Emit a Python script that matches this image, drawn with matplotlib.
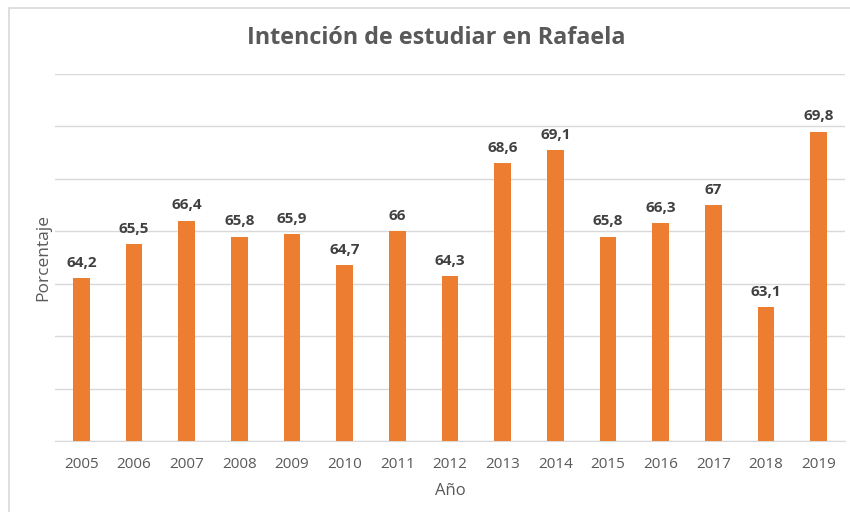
import matplotlib
matplotlib.use('Agg')
import matplotlib.pyplot as plt
from matplotlib.patches import Rectangle

years = ['2005', '2006', '2007', '2008', '2009', '2010', '2011', '2012',
         '2013', '2014', '2015', '2016', '2017', '2018', '2019']
values = [64.2, 65.5, 66.4, 65.8, 65.9, 64.7, 66, 64.3,
          68.6, 69.1, 65.8, 66.3, 67, 63.1, 69.8]

plt.rcParams['font.family'] = ['Open Sans', 'DejaVu Sans']

fig = plt.figure(figsize=(8.5, 5.12), dpi=100)
ax = fig.add_axes([55/850, 1-441/512, 790/850, (441-74)/512])

# chart border (light gray, only left/top visible in the crop)
fig.patches.append(Rectangle((9/850, -0.1), 1.2, 1.1-8/512, transform=fig.transFigure,
                             fill=False, edgecolor='#d9d9d9', linewidth=1.2))

x = range(len(years))
bars = ax.bar(x, values, width=0.32, color='#ED7D31', zorder=3)
ax.set_xlim(-0.5, len(years)-0.5)
ax.set_ylim(58, 72)
ax.set_yticks(range(58, 73, 2))
ax.yaxis.grid(True, color='#d9d9d9', linewidth=1)
ax.tick_params(axis='y', left=False, labelleft=False)
ax.tick_params(axis='x', bottom=False, labelsize=11, labelcolor='#595959', pad=8)
ax.set_xticks(list(x))
ax.set_xticklabels(years)
for s in ['top', 'right', 'left']:
    ax.spines[s].set_visible(False)
ax.spines['bottom'].set_color('#d9d9d9')

for b, v in zip(bars, values):
    lbl = ('%g' % v).replace('.', ',')
    ax.annotate(lbl, (b.get_x() + b.get_width()/2, v), xytext=(0, 6),
                textcoords='offset points', ha='center', va='bottom',
                fontsize=11, fontweight='bold', color='#404040')

ax.set_xlabel('Año', fontsize=12, color='#595959', labelpad=8)
ax.set_ylabel('Porcentaje', fontsize=12.5, color='#595959', labelpad=3)
fig.text(436/850, 1-38/512, 'Intención de estudiar en Rafaela', ha='center', va='center',
         fontsize=16.8, fontweight='bold', color='#595959')

fig.savefig('out.png', dpi=100)
